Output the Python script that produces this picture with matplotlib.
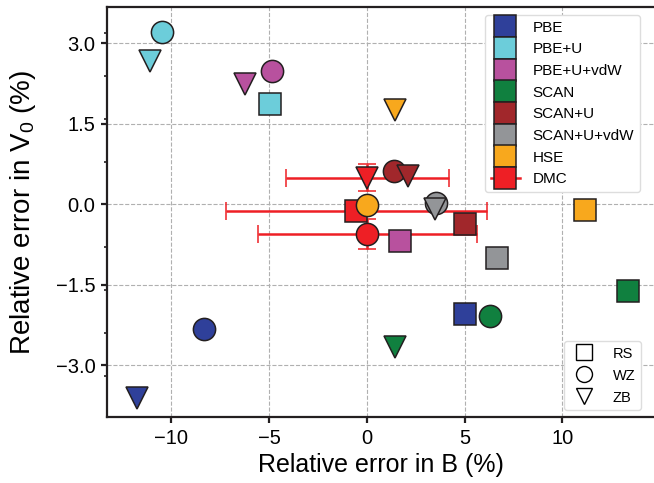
import matplotlib
matplotlib.use("Agg")
import matplotlib.pyplot as plt
from matplotlib.lines import Line2D
from matplotlib.ticker import FixedLocator, MultipleLocator

plt.rcParams['font.family'] = ['Liberation Sans', 'DejaVu Sans']
plt.rcParams['mathtext.default'] = 'regular'
plt.rcParams['axes.unicode_minus'] = True

methods = ["PBE", "PBE+U", "PBE+U+vdW", "SCAN", "SCAN+U", "SCAN+U+vdW", "HSE", "DMC"]
colors = ["#2F409A", "#6CCDDA", "#B8519E", "#10803F", "#A1272B", "#939598", "#F8A81D", "#EE1F25"]

# RS (square), WZ (circle), ZB (triangle) : relative errors in B (%) and V0 (%)
rs_B  = [5.02, -4.98, 1.70, 13.36, 5.03, 6.68, 11.17, -0.53]
rs_V  = [-2.04, 1.87, -0.68, -1.62, -0.36, -0.99, -0.10, -0.12]
wz_B  = [-8.35, -10.47, -4.86, 6.33, 1.41, 3.54, 0.03, 0.02]
wz_V  = [-2.32, 3.21, 2.49, -2.07, 0.63, 0.03, -0.01, -0.555]
zb_B  = [-11.78, -11.08, -6.23, 1.43, 2.10, 3.51, 1.45, 0.03]
zb_V  = [-3.61, 2.68, 2.25, -2.65, 0.54, -0.08, 1.76, 0.50]

# DMC error bars (RS, WZ, ZB)
dmc_xerr = [6.7, 5.6, 4.16]
dmc_yerr = [0.10, 0.28, 0.25]

structures = ["RS", "WZ", "ZB"]
struct_markers = ["s", "o", "v"]

xticks = [-10, -5, 0, 5, 10]
yticks = [-3.0, -1.5, 0.0, 1.5, 3.0]

fig = plt.figure(figsize=(6.54, 4.83), dpi=100)
ax = fig.add_axes([107/654, 1-417/483, (654-107)/654, (417-7)/483])

ms = 16
edge = "#231F20"
mew = 1.1

# DMC with error bars first (below other markers)
dmc_i = methods.index("DMC")
for (bx, by, m, xe, ye) in zip([rs_B[dmc_i], wz_B[dmc_i], zb_B[dmc_i]],
                                [rs_V[dmc_i], wz_V[dmc_i], zb_V[dmc_i]],
                                struct_markers, dmc_xerr, dmc_yerr):
    ax.errorbar(bx, by, xerr=xe, yerr=ye, fmt=m, ms=ms, mfc=colors[dmc_i],
                mec=edge, mew=mew, ecolor=colors[dmc_i], elinewidth=1.8,
                capsize=6.5, capthick=1.8, zorder=2)

for i, meth in enumerate(methods):
    if meth == "DMC":
        continue
    for xs, ys, m in zip([rs_B, wz_B, zb_B], [rs_V, wz_V, zb_V], struct_markers):
        ax.plot(xs[i], ys[i], m, ms=ms, mfc=colors[i], mec=edge, mew=mew, zorder=3)

ax.set_xlim(-13.3, 14.70)
ax.set_ylim(-3.96, 3.68)
ax.xaxis.set_major_locator(FixedLocator(xticks))
ax.yaxis.set_major_locator(FixedLocator(yticks))
ax.yaxis.set_minor_locator(MultipleLocator(0.8))
ax.set_xticklabels([f"{t:d}".replace("-", "\u2212") for t in xticks])
ax.set_yticklabels([f"{t:.1f}".replace("-", "\u2212") for t in yticks])
ax.tick_params(axis='both', which='major', labelsize=14.5, width=1.6, length=4.3, direction='out', color='#231F20')
ax.tick_params(axis='y', which='major', pad=4)
ax.tick_params(axis='x', which='major', pad=4)
ax.tick_params(axis='y', which='minor', width=1.2, length=2.5, color='#231F20')
ax.tick_params(axis='x', which='minor', length=0)

for s in ["left", "bottom", "top"]:
    ax.spines[s].set_linewidth(1.6)
    ax.spines[s].set_color('#231F20')
ax.spines["right"].set_visible(False)

ax.grid(True, which='major', linestyle='--', color='#b0b0b0', linewidth=0.8, zorder=0)
ax.set_axisbelow(True)

ax.set_xlabel("Relative error in B (%)", fontsize=18, labelpad=4)
ax.set_ylabel("Relative error in V$_0$ (%)", fontsize=20, labelpad=13)

anchor_x = (648 - 107) / (654 - 107)

# Method legend
handles = []
for i, meth in enumerate(methods):
    if meth == "DMC":
        h = Line2D([], [], color=colors[i], lw=1.8, marker='s', ms=ms,
                   mfc=colors[i], mec=edge, mew=mew)
    else:
        h = Line2D([], [], ls='none', marker='s', ms=ms, mfc=colors[i], mec=edge, mew=mew)
    handles.append(h)
leg1 = ax.legend(handles, methods, loc='upper right', bbox_to_anchor=(anchor_x, 1.0),
                 fontsize=11, labelspacing=0.5,
                 handlelength=1.9, handletextpad=0.85, borderpad=0.4,
                 borderaxespad=0.5, framealpha=1.0, edgecolor='#dddddd', fancybox=True)
ax.add_artist(leg1)

# Structure legend
shandles = [Line2D([], [], ls='none', marker=m, ms=11.5, mfc='white', mec='black', mew=1.0)
            for m in struct_markers]
leg2 = ax.legend(shandles, structures, loc='lower right', bbox_to_anchor=(anchor_x, 0.0),
                 fontsize=10.5, labelspacing=0.55,
                 handlelength=2.0, handletextpad=1.0, borderpad=0.35,
                 borderaxespad=0.5, framealpha=1.0, edgecolor='#dddddd', fancybox=True)

fig.savefig("out.png", dpi=100)
